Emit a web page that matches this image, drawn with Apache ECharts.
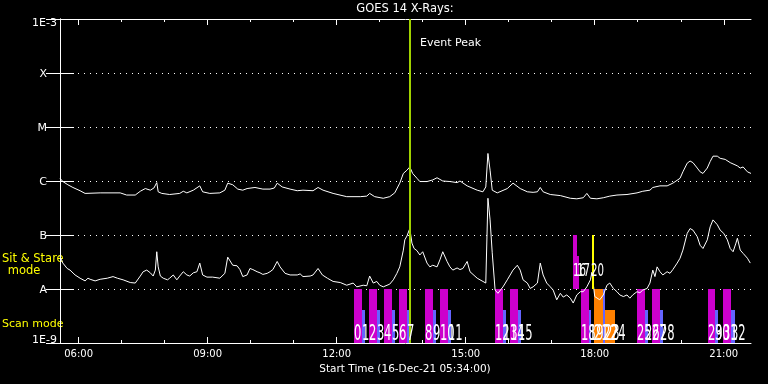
<!DOCTYPE html>
<html><head><meta charset="utf-8">
<script src="https://cdn.jsdelivr.net/npm/echarts@6/dist/echarts.min.js"></script>
<style>html,body{margin:0;padding:0;background:#000;}#c{width:768px;height:384px;}</style>
</head><body><div id="c"></div>
<script>
// ---------- data ----------
const START = '05:34';
const END = '21:38';
const tickLabels = ['06:00', '09:00', '12:00', '15:00', '18:00', '21:00'];
const hourTicks = ['06:00','07:00','08:00','09:00','10:00','11:00','12:00','13:00','14:00','15:00','16:00','17:00','18:00','19:00','20:00','21:00'];
const levelLabels = ['1E-9', 'A', 'B', 'C', 'M', 'X', '1E-3']; // log10 flux -9 .. -3

// GOES long channel (1-8 A): minutes after start, log10 flux (W/m^2)
const longMin = [0,4,11,18,28,35,56,84,93,105,112,119,126,131,135,137,142,153,167,172,177,186,195,199,209,223,230,234,241,248,255,261,272,283,293,299,303,310,321,331,339,353,360,367,381,400,419,428,432,439,451,460,467,474,479,484,488,492,498,502,512,520,526,534,544,554,558,568,582,590,594,597,600,603,610,624,632,642,652,660,666,670,674,684,698,712,721,730,735,740,749,758,767,777,791,805,813,823,827,837,847,855,865,869,875,879,883,889,893,897,903,907,911,917,921,928,935,945,949,953,959,964];
const longLog = [-5.95,-6.01,-6.07,-6.12,-6.18,-6.23,-6.22,-6.22,-6.26,-6.26,-6.19,-6.14,-6.17,-6.13,-6.03,-6.20,-6.23,-6.25,-6.23,-6.19,-6.22,-6.17,-6.09,-6.20,-6.23,-6.22,-6.17,-6.04,-6.07,-6.15,-6.17,-6.14,-6.12,-6.15,-6.15,-6.13,-6.04,-6.11,-6.15,-6.18,-6.17,-6.18,-6.12,-6.17,-6.23,-6.29,-6.29,-6.28,-6.23,-6.29,-6.32,-6.29,-6.22,-6.04,-5.86,-5.80,-5.74,-5.86,-5.95,-6.01,-6.01,-5.98,-5.94,-6.00,-6.01,-6.03,-6.00,-6.09,-6.17,-6.20,-6.11,-5.49,-5.80,-6.17,-6.22,-6.14,-6.04,-6.14,-6.20,-6.21,-6.20,-6.12,-6.20,-6.25,-6.27,-6.32,-6.33,-6.31,-6.23,-6.32,-6.33,-6.31,-6.28,-6.26,-6.25,-6.22,-6.19,-6.17,-6.12,-6.09,-6.09,-6.04,-5.95,-5.83,-5.67,-5.63,-5.66,-5.76,-5.83,-5.86,-5.76,-5.64,-5.54,-5.54,-5.58,-5.60,-5.66,-5.72,-5.76,-5.74,-5.83,-5.86];

// GOES short channel (0.5-4 A)
const shortMin = [0,4,10,14,21,28,35,39,42,49,56,66,74,80,88,98,105,112,116,121,126,130,133,135,137,140,144,150,153,158,163,167,172,177,181,186,191,195,199,205,213,223,230,234,241,247,251,255,261,265,269,275,279,283,289,293,297,303,307,314,321,331,335,339,349,353,360,366,373,381,391,400,409,414,423,428,432,437,442,446,451,460,465,470,474,479,481,484,488,491,494,498,502,506,512,516,520,526,530,534,540,544,548,554,558,562,568,572,582,590,594,597,600,603,607,611,618,624,632,638,642,646,652,656,660,666,670,674,679,684,688,693,698,702,707,712,716,721,726,730,735,740,742,746,753,758,763,767,772,777,781,786,791,795,799,805,809,813,819,823,827,830,833,837,841,847,851,855,861,865,869,875,879,883,889,893,897,903,907,911,917,921,926,931,935,939,943,945,949,953,959,963];
const shortLog = [-7.40,-7.52,-7.62,-7.65,-7.74,-7.80,-7.85,-7.80,-7.82,-7.85,-7.82,-7.80,-7.77,-7.80,-7.83,-7.88,-7.89,-7.76,-7.68,-7.65,-7.70,-7.76,-7.65,-7.31,-7.59,-7.76,-7.80,-7.83,-7.80,-7.74,-7.83,-7.76,-7.68,-7.74,-7.76,-7.70,-7.68,-7.52,-7.74,-7.78,-7.78,-7.80,-7.71,-7.41,-7.56,-7.57,-7.64,-7.77,-7.74,-7.62,-7.64,-7.68,-7.70,-7.73,-7.71,-7.68,-7.64,-7.49,-7.59,-7.71,-7.74,-7.74,-7.72,-7.77,-7.76,-7.74,-7.62,-7.74,-7.80,-7.86,-7.88,-7.93,-7.89,-7.96,-7.93,-7.94,-7.76,-7.89,-7.86,-7.93,-7.96,-7.91,-7.83,-7.71,-7.59,-7.28,-7.09,-7.02,-6.88,-7.15,-7.25,-7.29,-7.37,-7.31,-7.52,-7.59,-7.56,-7.59,-7.46,-7.31,-7.49,-7.59,-7.65,-7.61,-7.64,-7.62,-7.49,-7.68,-7.80,-7.86,-7.89,-6.32,-6.72,-7.33,-8.02,-8.08,-7.96,-7.83,-7.65,-7.56,-7.65,-7.83,-7.89,-7.99,-7.96,-7.89,-7.52,-7.74,-7.89,-7.96,-8.02,-8.20,-8.08,-8.15,-8.11,-8.17,-8.26,-8.11,-8.05,-8.05,-7.96,-7.83,-7.69,-8.14,-8.20,-8.11,-7.93,-7.89,-7.99,-8.05,-8.11,-8.14,-8.11,-8.17,-8.11,-8.05,-8.07,-8.02,-7.99,-7.89,-7.65,-7.77,-7.59,-7.68,-7.74,-7.68,-7.71,-7.64,-7.52,-7.43,-7.28,-6.97,-6.88,-6.91,-7.03,-7.19,-7.25,-7.09,-6.85,-6.72,-6.81,-6.91,-6.97,-7.09,-7.25,-7.31,-7.15,-7.06,-7.28,-7.34,-7.43,-7.52];

// Event peak
const eventPeakMin = 488;
const eventPeakText = 'Event Peak';

// Scan-mode observations (minutes after start): first part, second part, end
const scanMagStart = [410,431,452,473,509,530,607,628,727,805,826,904,925];
const scanBlueStart = [421,442,463,484,520,541,618,639,738,816,837,914,936];
const scanBlueEnd  = [426,447,467,488,525,546,622,643,741,820,841,918,941];
const scanMagId  = [0,2,4,6,8,10,12,14,18,25,27,29,31];
const scanBlueId = [1,3,5,7,9,11,13,15,19,26,28,30,32];
const scanLevelTop = -8, scanLevelBottom = -9, scanPartTop = -8.39;

// Other scan-mode observations near 18:00
const extraStart = [745, 758, 760];
const extraEnd   = [758, 761, 774];
const extraTop   = [-8, -8, -8.39];
const extraKind  = ['orange', 'blue', 'orange'];
const extraLabelMin = [745, 758, 760, 769];
const extraLabelId  = [21, 22, 23, 24];

// Sit & stare observations
const ssStart = [716, 721];
const ssEnd   = [721, 724];
const ssTop   = [-7, -7.39];
const ssBottom = -8;
const ssId = [16, 17];
const ssLineMin = 743;
const ssLineId = 20;

// ---------- chart ----------
const FONT = '"DejaVu Sans", "Liberation Sans", sans-serif';
const hm = s => { const p = s.split(':').map(Number); return p[0] * 60 + p[1]; };
const el = s => hm(s) - hm(START);
const fmtClock = v => { const t = Math.round(v + hm(START)); return String(Math.floor(t / 60)).padStart(2, '0') + ':' + String(t % 60).padStart(2, '0'); };
const X_MAX = el(END);
const COLORS = { magenta: '#cc00cc', blue: '#6464ff', orange: '#ff8000', green: '#a0d200', yellow: '#ffff00' };

const rects = [];
scanMagStart.forEach((s, i) => {
  rects.push([s, scanBlueStart[i], scanLevelTop, scanLevelBottom, 'magenta']);
  rects.push([scanBlueStart[i], scanBlueEnd[i], scanPartTop, scanLevelBottom, 'blue']);
});
extraStart.forEach((s, i) => rects.push([s, extraEnd[i], extraTop[i], scanLevelBottom, extraKind[i]]));
ssStart.forEach((s, i) => rects.push([s, ssEnd[i], ssTop[i], ssBottom, 'magenta']));

const labels = [];
scanMagStart.forEach((s, i) => { labels.push([s, -8.843, String(scanMagId[i]), 'scan']); labels.push([scanBlueStart[i], -8.843, String(scanBlueId[i]), 'scan']); });
extraLabelMin.forEach((s, i) => labels.push([s, -8.843, String(extraLabelId[i]), 'scan']));
ssStart.forEach((s, i) => labels.push([s, -7.685, String(ssId[i]), 'ss']));
labels.push([ssLineMin - 2, -7.685, String(ssLineId), 'ss']);

const chart = echarts.init(document.getElementById('c'), null, { renderer: 'canvas' });
const gridRect = { left: 60, top: 19, width: 691, height: 324 };
const baseX = { type: 'value', min: 0, max: X_MAX, splitLine: { show: false } };
const white = '#ffffff';

chart.setOption({
  backgroundColor: '#000000',
  animation: false,
  grid: [Object.assign({}, gridRect), Object.assign({}, gridRect)],
  xAxis: [
    Object.assign({}, baseX, { gridIndex: 0, position: 'bottom',
      axisLine: { lineStyle: { color: white, width: 1 } },
      axisTick: { inside: true, length: 3, customValues: hourTicks.map(el), lineStyle: { color: white } },
      axisLabel: { customValues: tickLabels.map(el), formatter: fmtClock, color: white, fontSize: 10, fontFamily: FONT, margin: 6 } }),
    Object.assign({}, baseX, { gridIndex: 0, position: 'top',
      axisLine: { lineStyle: { color: white, width: 1 } },
      axisTick: { inside: true, length: 3, customValues: hourTicks.map(el), lineStyle: { color: white } },
      axisLabel: { show: false } }),
    Object.assign({}, baseX, { gridIndex: 1, position: 'bottom', axisLine: { show: false },
      axisTick: { inside: true, length: 6, customValues: tickLabels.map(el), lineStyle: { color: white } },
      axisLabel: { show: false } }),
    Object.assign({}, baseX, { gridIndex: 1, position: 'top', axisLine: { show: false },
      axisTick: { inside: true, length: 6, customValues: tickLabels.map(el), lineStyle: { color: white } },
      axisLabel: { show: false } })
  ],
  yAxis: [
    { type: 'value', gridIndex: 0, position: 'left', min: -9, max: -3, interval: 1,
      axisLine: { show: true, lineStyle: { color: white } },
      axisTick: { show: true, inside: true, length: 14, lineStyle: { color: white } },
      splitLine: { show: true, lineStyle: { color: white, type: [1, 5], width: 1 } },
      axisLabel: { margin: 3, color: white, fontSize: 11, fontFamily: FONT,
        formatter: v => { const i = Math.round(v + 9); const t = levelLabels[i]; return i === 6 ? '{top|' + t + '}' : (i === 0 ? '{bot|' + t + '}' : '{let|' + t + '}'); },
        rich: {
          top: { color: white, fontSize: 11, fontFamily: FONT, padding: [8, 0, 0, 0] },
          bot: { color: white, fontSize: 11, fontFamily: FONT, padding: [0, 0, 6, 0] },
          let: { color: white, fontSize: 11, fontFamily: FONT, padding: [2, 10, 0, 0] }
        } } },
    { type: 'value', gridIndex: 0, position: 'right', min: -9, max: -3, interval: 1,
      axisLine: { show: true, lineStyle: { color: white } },
      axisTick: { show: true, inside: true, length: 14, lineStyle: { color: white } },
      splitLine: { show: false }, axisLabel: { show: false } },
    { type: 'value', gridIndex: 1, min: -9, max: -3, show: false }
  ],
  graphic: [
    { type: 'text', x: 405, y: 9, style: { text: 'GOES 14 X-Rays:', fill: white, font: '11.5px ' + FONT, align: 'center', verticalAlign: 'middle' } },
    { type: 'text', x: 405, y: 369, style: { text: 'Start Time (16-Dec-21 05:34:00)', fill: white, font: '10.5px ' + FONT, align: 'center', verticalAlign: 'middle' } },
    { type: 'text', x: 420, y: 43, style: { text: eventPeakText, fill: white, font: '11px ' + FONT, align: 'left', verticalAlign: 'middle' } },
    { type: 'text', x: 2, y: 259, style: { text: 'Sit & Stare', fill: COLORS.yellow, font: '11.5px ' + FONT, align: 'left', verticalAlign: 'middle' } },
    { type: 'text', x: 24, y: 271, style: { text: 'mode', fill: COLORS.yellow, font: '11.5px ' + FONT, align: 'center', verticalAlign: 'middle' } },
    { type: 'text', x: 2, y: 324, style: { text: 'Scan mode', fill: COLORS.yellow, font: '11px ' + FONT, align: 'left', verticalAlign: 'middle' } }
  ],
  series: [
    { type: 'custom', xAxisIndex: 0, yAxisIndex: 0, z: 1, data: rects, encode: { x: [0, 1], y: [2, 3] },
      renderItem: (params, api) => {
        const d = rects[params.dataIndex];
        const p1 = api.coord([d[0], d[2]]);
        const p2 = api.coord([d[1], d[3]]);
        return { type: 'rect', shape: { x: Math.round(p1[0]), y: Math.round(p1[1]), width: Math.round(p2[0]) - Math.round(p1[0]), height: Math.round(p2[1]) - Math.round(p1[1]) }, style: { fill: COLORS[d[4]] } };
      } },
    { type: 'line', name: 'long', xAxisIndex: 0, yAxisIndex: 0, z: 3, showSymbol: false, symbol: 'none',
      lineStyle: { color: white, width: 1 }, data: longMin.map((m, i) => [m, longLog[i]]) },
    { type: 'line', name: 'short', xAxisIndex: 0, yAxisIndex: 0, z: 3, showSymbol: false, symbol: 'none',
      lineStyle: { color: white, width: 1 }, data: shortMin.map((m, i) => [m, shortLog[i]]) },
    { type: 'custom', xAxisIndex: 0, yAxisIndex: 0, z: 4,
      data: [[eventPeakMin, -3, -9, 'green'], [ssLineMin, -7, -8, 'yellow']],
      renderItem: (params, api) => {
        const p1 = api.coord([api.value(0), api.value(1)]);
        const p2 = api.coord([api.value(0), api.value(2)]);
        const c = params.dataIndex === 0 ? COLORS.green : COLORS.yellow;
        return { type: 'line', shape: { x1: Math.round(p1[0]), y1: p1[1], x2: Math.round(p2[0]), y2: p2[1] }, style: { stroke: c, lineWidth: 2 } };
      } },
    { type: 'custom', xAxisIndex: 0, yAxisIndex: 0, z: 5, data: labels,
      renderItem: (params, api) => {
        const d = labels[params.dataIndex];
        const p = api.coord([d[0], d[1]]);
        const scan = d[3] === 'scan';
        return { type: 'text', x: Math.round(p[0]), y: p[1], scaleX: scan ? 0.55 : 0.6,
          style: { text: d[2], fill: white, fontSize: scan ? 21 : 17, fontFamily: FONT, align: 'left', verticalAlign: 'middle' } };
      } }
  ]
});
</script>
</body></html>
